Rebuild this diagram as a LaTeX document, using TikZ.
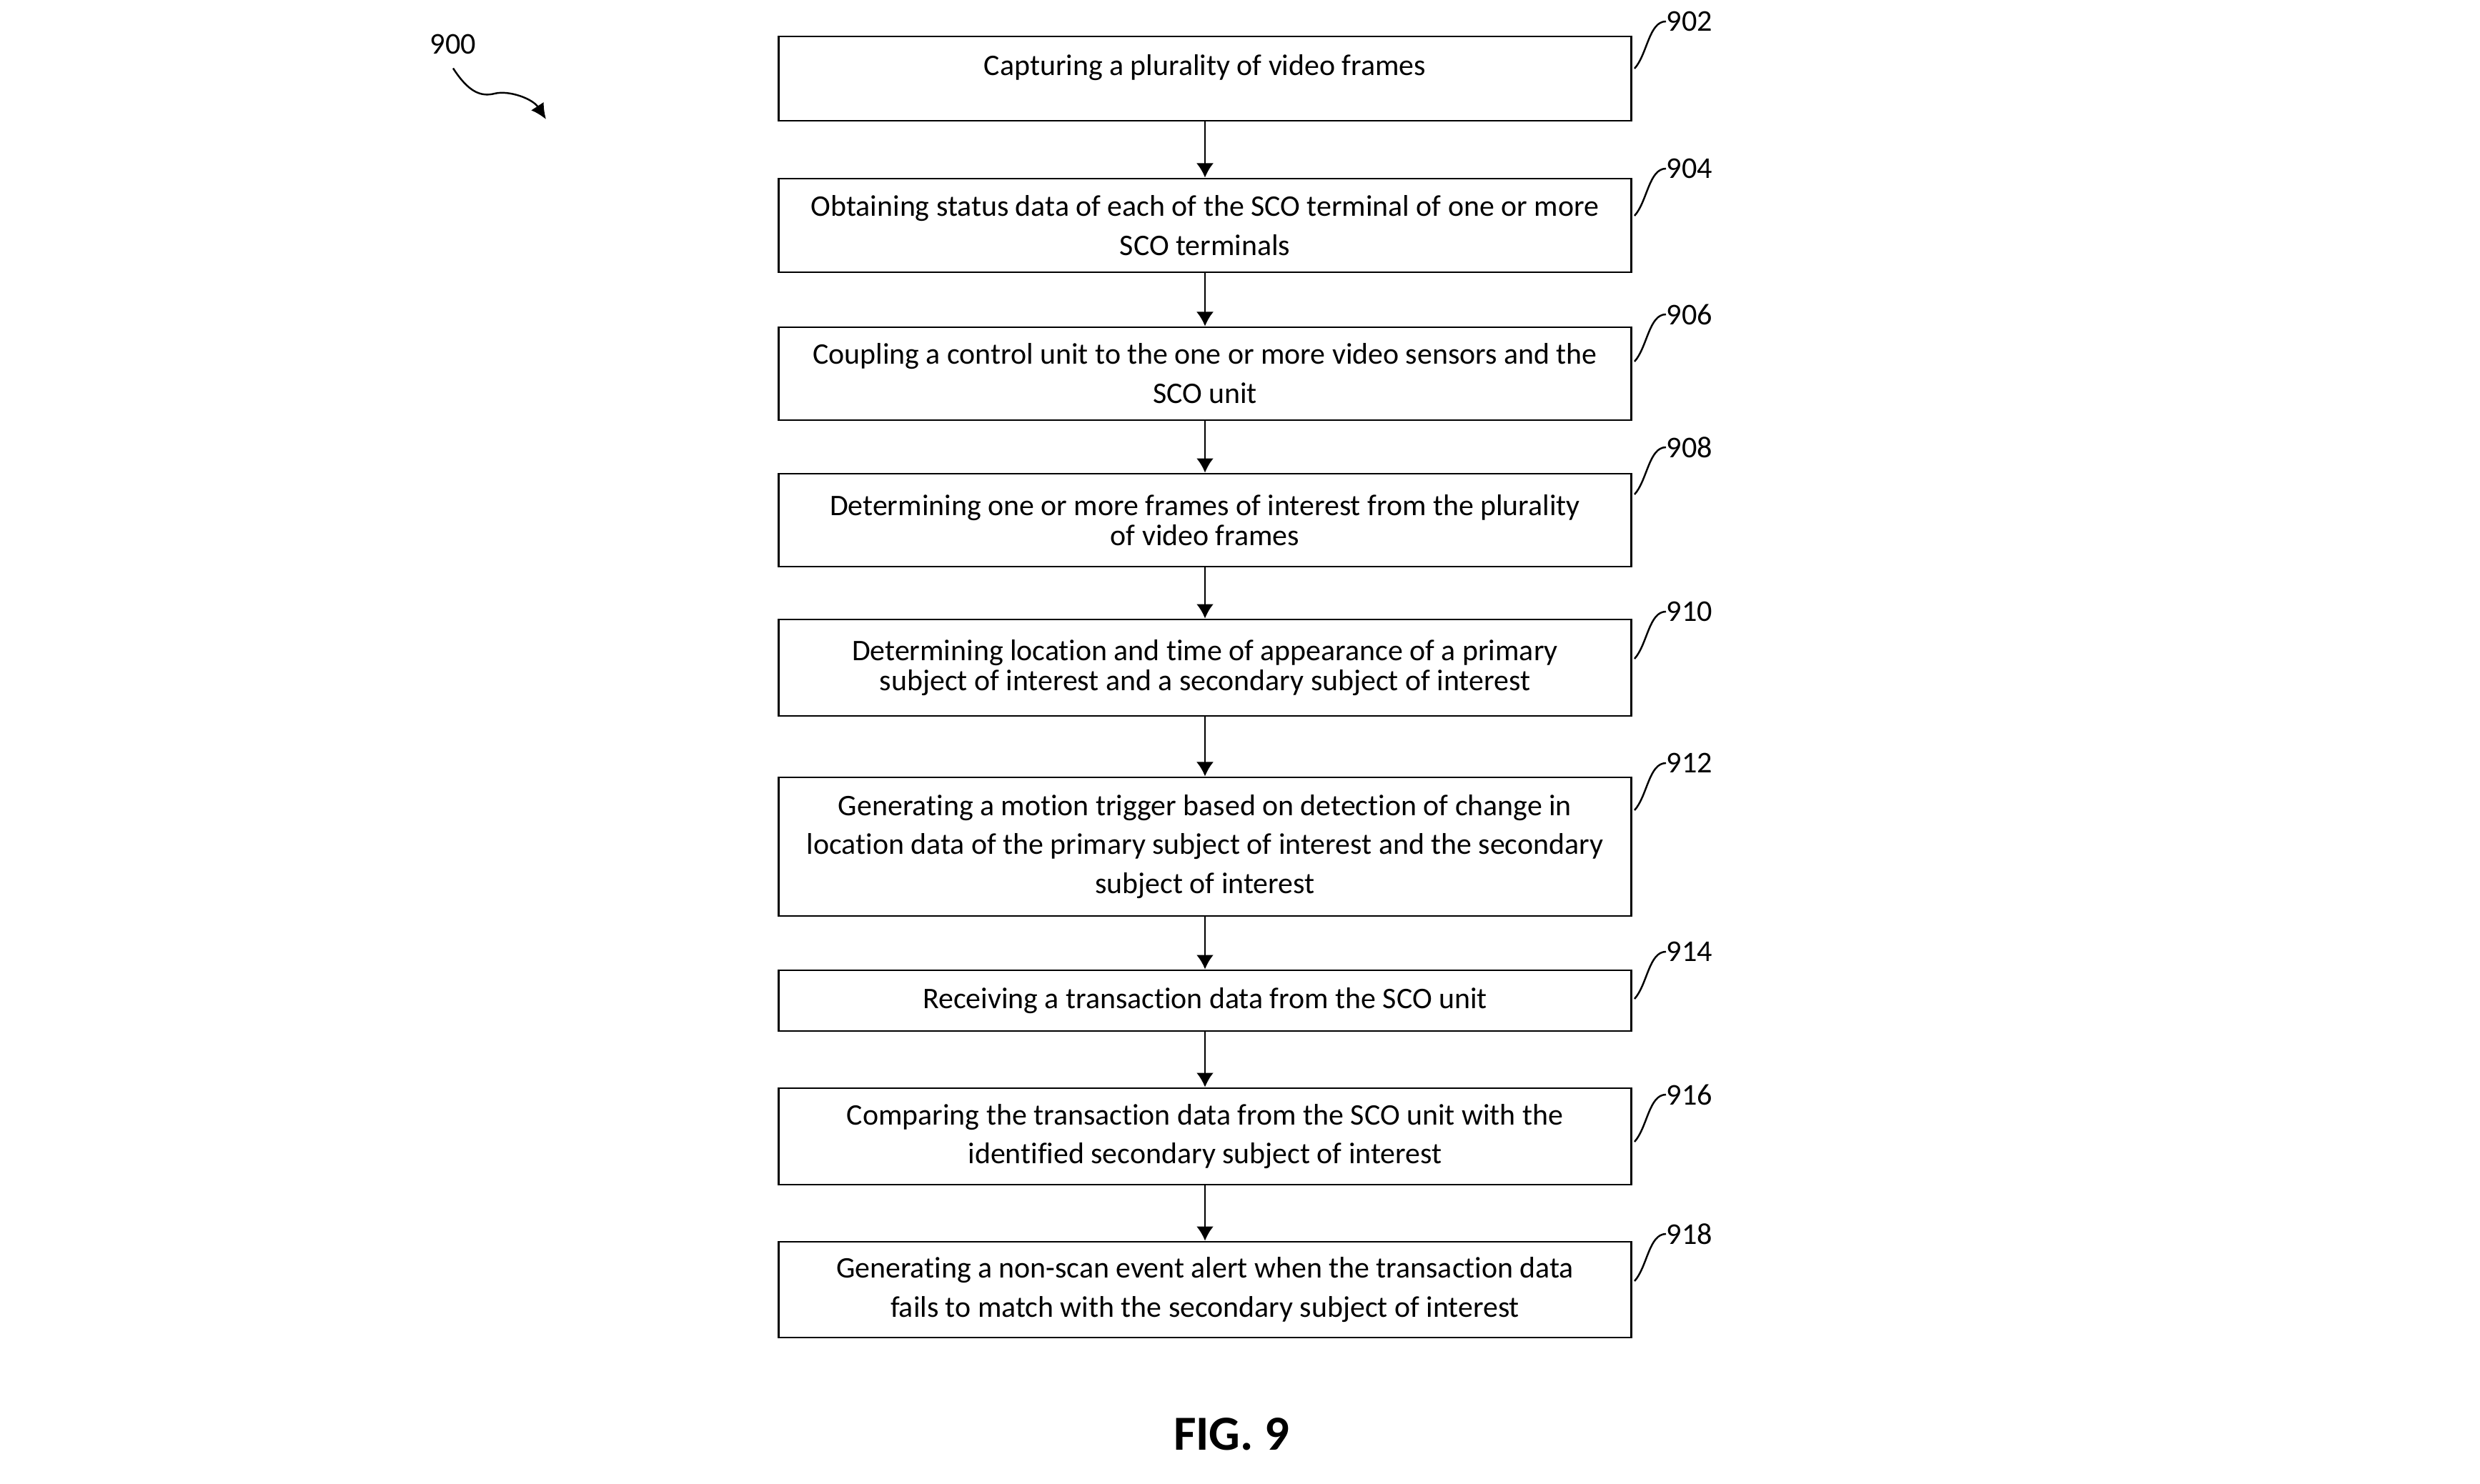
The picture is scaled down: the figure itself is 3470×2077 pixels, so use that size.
\documentclass[tikz,border=0pt]{standalone}
\usepackage{fontspec}
\setmainfont{Carlito}[Ligatures=NoCommon]
\usetikzlibrary{arrows.meta}

\begin{document}
\begin{tikzpicture}[x=0.01cm, y=-0.01cm,
  stepbox/.style={draw, line width=0.8pt, minimum width=11.93cm, inner sep=0pt,
    align=center, font=\fontsize{11.9}{15.6}\selectfont},
  tight/.style={font=\fontsize{11.9}{11.9}\selectfont},
  refnum/.style={anchor=west, inner sep=0pt, font=\fontsize{12}{14}\selectfont},
  lead/.style={line width=0.7pt},
  flow/.style={line width=0.65pt, -{Latex[length=5.7pt,width=6.8pt]}}]
\useasboundingbox (0,0) rectangle (3470,2077);

% flow steps
\node[stepbox, minimum height=1.18cm, text depth=10.8pt] (s902) at (1686,110) {Capturing a plurality of video frames};
\node[stepbox, minimum height=1.31cm] (s904) at (1686,315.5) {Obtaining status data of each of the SCO terminal of one or more\\SCO terminals};
\node[stepbox, minimum height=1.30cm] (s906) at (1686,523) {Coupling a control unit to the one or more video sensors and the\\SCO unit};
\node[stepbox, tight, minimum height=1.30cm] (s908) at (1686,728) {Determining one or more frames of interest from the plurality\\of video frames};
\node[stepbox, tight, minimum height=1.35cm] (s910) at (1686,934.5) {Determining location and time of appearance of a primary\\subject of interest and a secondary subject of interest};
\node[stepbox, minimum height=1.94cm] (s912) at (1686,1185) {Generating a motion trigger based on detection of change in\\location data of the primary subject of interest and the secondary\\subject of interest};
\node[stepbox, minimum height=0.85cm] (s914) at (1686,1400.5) {Receiving a transaction data from the SCO unit};
\node[stepbox, minimum height=1.35cm] (s916) at (1686,1590.5) {Comparing the transaction data from the SCO unit with the\\identified secondary subject of interest};
\node[stepbox, minimum height=1.34cm] (s918) at (1686,1805) {Generating a non-scan event alert when the transaction data\\fails to match with the secondary subject of interest};

\draw[flow] (s902) -- (s904);
\draw[flow] (s904) -- (s906);
\draw[flow] (s906) -- (s908);
\draw[flow] (s908) -- (s910);
\draw[flow] (s910) -- (s912);
\draw[flow] (s912) -- (s914);
\draw[flow] (s914) -- (s916);
\draw[flow] (s916) -- (s918);

% reference numerals
\node[refnum] (r902) at (2331,30) {902};
\node[refnum] (r904) at (2331,236) {904};
\node[refnum] (r906) at (2331,440) {906};
\node[refnum] (r908) at (2331,626) {908};
\node[refnum] (r910) at (2331,856) {910};
\node[refnum] (r912) at (2331,1068) {912};
\node[refnum] (r914) at (2331,1332) {914};
\node[refnum] (r916) at (2331,1532) {916};
\node[refnum] (r918) at (2331,1727) {918};

\draw[lead] (r902.west) .. controls +(-24,0) and +(18,-20) .. ++(-44,66);
\draw[lead] (r904.west) .. controls +(-24,0) and +(18,-20) .. ++(-44,66);
\draw[lead] (r906.west) .. controls +(-24,0) and +(18,-20) .. ++(-44,66);
\draw[lead] (r908.west) .. controls +(-24,0) and +(18,-20) .. ++(-44,66);
\draw[lead] (r910.west) .. controls +(-24,0) and +(18,-20) .. ++(-44,66);
\draw[lead] (r912.west) .. controls +(-24,0) and +(18,-20) .. ++(-44,66);
\draw[lead] (r914.west) .. controls +(-24,0) and +(18,-20) .. ++(-44,66);
\draw[lead] (r916.west) .. controls +(-24,0) and +(18,-20) .. ++(-44,66);
\draw[lead] (r918.west) .. controls +(-24,0) and +(18,-20) .. ++(-44,66);

% figure numeral with its wavy arrow
\node[refnum, anchor=center] (r900) at (634,62) {900};
\coordinate (t900) at (764,167);
\draw[lead, -{Latex[length=6.2pt,width=6pt]}] ([yshift=-0.19cm]r900.south) .. controls (655,128) and (672,136) .. (692,131)
  .. controls (712,126) and (745,138) .. (t900);

\node[font=\bfseries\fontsize{19.5}{23}\selectfont] (fig) at (1723,2007) {FIG. 9};
\end{tikzpicture}
\end{document}
